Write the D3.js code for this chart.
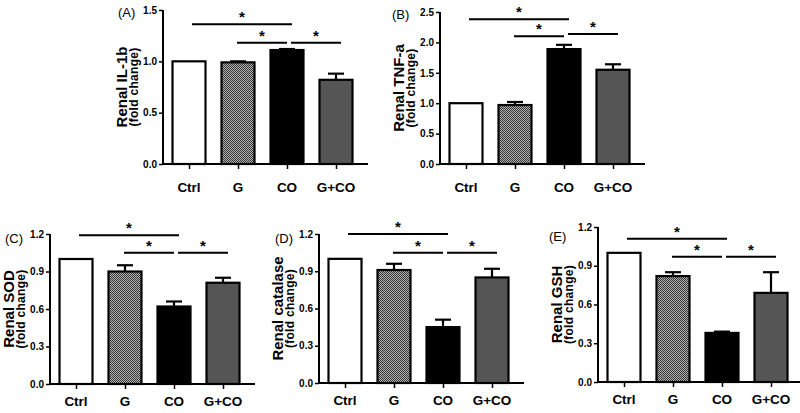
<!DOCTYPE html>
<html>
<head>
<meta charset="utf-8">
<script src="https://cdn.jsdelivr.net/npm/d3@7"></script>
<style>
  body { margin: 0; background: #fff; }
  svg { display: block; font-family: "Liberation Sans", Arial, sans-serif; }
</style>
</head>
<body>
<svg id="chart" width="800" height="413"></svg>
<script>
// groups and values
const groups = ["Ctrl", "G", "CO", "G+CO"];

const il1bMean = [1.00, 0.99, 1.11, 0.82];
const il1bErr  = [0.00, 0.01, 0.01, 0.06];
const tnfMean  = [1.00, 0.97, 1.89, 1.55];
const tnfErr   = [0.00, 0.05, 0.07, 0.09];
const sodMean  = [1.00, 0.90, 0.62, 0.81];
const sodErr   = [0.00, 0.05, 0.04, 0.04];
const catMean  = [1.00, 0.91, 0.45, 0.85];
const catErr   = [0.00, 0.05, 0.06, 0.07];
const gshMean  = [1.00, 0.82, 0.38, 0.69];
const gshErr   = [0.00, 0.03, 0.01, 0.16];

const ticksA  = [0, 0.5, 1.0, 1.5];
const ticksB  = [0, 0.5, 1.0, 1.5, 2.0, 2.5];
const ticks03 = [0, 0.3, 0.6, 0.9, 1.2];

// significance bars: [from, to, height]
const sigA = [["Ctrl", "CO", 1.36], ["G", "CO", 1.18], ["CO", "G+CO", 1.18]];
const sigB = [["Ctrl", "CO", 2.38], ["G", "CO", 2.10], ["CO", "G+CO", 2.14]];
const sigC = [["Ctrl", "CO", 1.19], ["G", "CO", 1.05], ["CO", "G+CO", 1.05]];
const sigD = [["Ctrl", "CO", 1.20], ["G", "CO", 1.05], ["CO", "G+CO", 1.05]];
const sigE = [["Ctrl", "CO", 1.11], ["G", "CO", 0.97], ["CO", "G+CO", 0.97]];

const svg = d3.select("#chart");

// checker fill for the G group
const defs = svg.append("defs");
const pat = defs.append("pattern")
  .attr("id", "checker")
  .attr("width", 2).attr("height", 2)
  .attr("patternUnits", "userSpaceOnUse");
pat.append("rect").attr("width", 2).attr("height", 2).attr("fill", "#b4b4b4");
pat.append("rect").attr("width", 1).attr("height", 1).attr("fill", "#333");
pat.append("rect").attr("x", 1).attr("y", 1).attr("width", 1).attr("height", 1).attr("fill", "#333");

const fills = ["#fff", "url(#checker)", "#000", "#555"];
const sigOffsets = [[3, 5], [-1, 0], [4, 5]];

function panel(opt) {
  const { ax, top, bottom, ymax, ticks, means, errs, sig, letter, title, letterDx, letterDy, labelDy } = opt;
  const g = svg.append("g");

  const y = d3.scaleLinear().domain([0, ymax]).range([bottom, top]);
  const x = d3.scalePoint().domain(groups).range([ax + 26, ax + 26 + 147]);
  const bw = 33;

  const rows = groups.map((k, i) => ({ k, v: means[i], e: errs[i], fill: fills[i] }));

  // error whiskers (upper only)
  const eb = g.append("g").selectAll("g").data(rows.filter(d => d.e > 0)).join("g");
  eb.append("line")
    .attr("x1", d => x(d.k)).attr("x2", d => x(d.k))
    .attr("y1", d => y(d.v)).attr("y2", d => y(d.v + d.e))
    .attr("stroke", "#000").attr("stroke-width", 2.2);
  eb.append("line")
    .attr("x1", d => x(d.k) - 8).attr("x2", d => x(d.k) + 8)
    .attr("y1", d => y(d.v + d.e)).attr("y2", d => y(d.v + d.e))
    .attr("stroke", "#000").attr("stroke-width", 2.2);

  g.append("g").selectAll("rect").data(rows).join("rect")
    .attr("x", d => x(d.k) - bw / 2)
    .attr("y", d => y(d.v))
    .attr("width", bw)
    .attr("height", d => y(0) - y(d.v))
    .attr("fill", d => d.fill)
    .attr("stroke", "#000")
    .attr("stroke-width", 2.2);

  // y axis
  const yAxis = g.append("g")
    .attr("transform", `translate(${ax},0)`)
    .call(d3.axisLeft(y).tickValues(ticks).tickFormat(d3.format(".1f")).tickSize(4).tickPadding(2));
  yAxis.select(".domain").attr("stroke-width", 2).attr("d", `M0,${top}V${bottom}`);
  yAxis.selectAll(".tick line").attr("stroke-width", 1.5);
  yAxis.selectAll(".tick text")
    .attr("font-size", 10).attr("font-weight", "bold")
    .attr("font-family", "Liberation Sans, Arial, sans-serif");

  // x axis
  const xAxis = g.append("g")
    .attr("transform", `translate(0,${bottom})`)
    .call(d3.axisBottom(x).tickSize(5).tickFormat(""));
  xAxis.select(".domain").attr("stroke-width", 2).attr("d", `M${ax},0H${Math.min(ax + 205, 800)}`);
  xAxis.selectAll(".tick line").attr("stroke-width", 1.5);

  g.append("g").selectAll("text").data(groups).join("text")
    .attr("x", d => x(d))
    .attr("y", bottom + labelDy)
    .attr("text-anchor", "middle")
    .attr("font-size", 13.5)
    .attr("font-weight", "bold")
    .text(d => d);

  // significance bars
  sig.forEach((s, i) => {
    const x1 = x(s[0]) + sigOffsets[i][0], x2 = x(s[1]) + sigOffsets[i][1];
    g.append("line")
      .attr("x1", x1).attr("x2", x2)
      .attr("y1", y(s[2])).attr("y2", y(s[2]))
      .attr("stroke", "#000").attr("stroke-width", 2);
    g.append("text")
      .attr("x", (x1 + x2) / 2)
      .attr("y", y(s[2]) - 2)
      .attr("text-anchor", "middle")
      .attr("font-size", 15)
      .attr("font-weight", "bold")
      .text("*");
  });

  // axis titles
  const cy = (top + bottom) / 2;
  g.append("text")
    .attr("transform", `translate(${ax - 36.5},${cy}) rotate(-90)`)
    .attr("text-anchor", "middle")
    .attr("font-size", 15)
    .attr("font-weight", "bold")
    .text(title);
  g.append("text")
    .attr("transform", `translate(${ax - 25.5},${cy}) rotate(-90)`)
    .attr("text-anchor", "middle")
    .attr("font-size", 12)
    .attr("font-weight", "bold")
    .attr("letter-spacing", 0.3)
    .text("(fold change)");

  g.append("text")
    .attr("x", ax - letterDx)
    .attr("y", top + letterDy)
    .attr("font-size", 13)
    .text(letter);
}

panel({ ax: 163, top: 10, bottom: 164, ymax: 1.5, ticks: ticksA, means: il1bMean, errs: il1bErr,
        sig: sigA, letter: "(A)", title: "Renal IL-1b", letterDx: 45, letterDy: 7, labelDy: 28 });
panel({ ax: 440, top: 12, bottom: 164, ymax: 2.5, ticks: ticksB, means: tnfMean, errs: tnfErr,
        sig: sigB, letter: "(B)", title: "Renal TNF-a", letterDx: 48, letterDy: 7, labelDy: 28 });
panel({ ax: 50, top: 234, bottom: 384, ymax: 1.2, ticks: ticks03, means: sodMean, errs: sodErr,
        sig: sigC, letter: "(C)", title: "Renal SOD", letterDx: 45, letterDy: 9, labelDy: 22 });
panel({ ax: 319, top: 234, bottom: 383, ymax: 1.2, ticks: ticks03, means: catMean, errs: catErr,
        sig: sigD, letter: "(D)", title: "Renal catalase", letterDx: 44, letterDy: 9, labelDy: 22 });
panel({ ax: 598, top: 227, bottom: 382, ymax: 1.2, ticks: ticks03, means: gshMean, errs: gshErr,
        sig: sigE, letter: "(E)", title: "Renal GSH", letterDx: 49, letterDy: 14, labelDy: 22 });
</script>
</body>
</html>
